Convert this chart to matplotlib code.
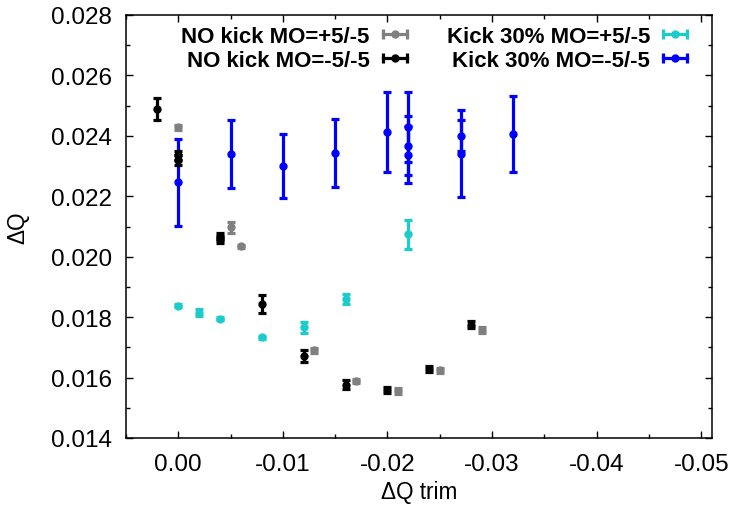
import matplotlib
matplotlib.use("Agg")
import matplotlib.pyplot as plt
from matplotlib.lines import Line2D
from matplotlib.legend_handler import HandlerLine2D, HandlerTuple
from matplotlib.ticker import MultipleLocator, FormatStrFormatter

plt.rcParams['font.family'] = ['Liberation Sans', 'DejaVu Sans']

# ---- data ----
labels = ["NO kick MO=+5/-5", "NO kick MO=-5/-5", "Kick 30% MO=+5/-5", "Kick 30% MO=-5/-5"]
colors = ["#808080", "#000000", "#1ccccc", "#0000ff"]

grey_x = [0.000, -0.005, -0.006, -0.013, -0.017, -0.021, -0.025, -0.029]
grey_y = [0.02428, 0.02098, 0.02035, 0.01690, 0.01588, 0.01557, 0.01624, 0.01756]
grey_e = [0.00008, 0.00018, 0.00005, 0.00008, 0.00006, 0.00010, 0.00008, 0.00010]

black_x = [0.002, 0.000, 0.000, -0.004, -0.004, -0.008, -0.012, -0.016, -0.020, -0.024, -0.028]
black_y = [0.02489, 0.02335, 0.02320, 0.02070, 0.02055, 0.01843, 0.01672, 0.01576, 0.01560, 0.01628, 0.01775]
black_e = [0.00035, 0.00015, 0.00015, 0.00010, 0.00010, 0.00030, 0.00020, 0.00015, 0.00010, 0.00010, 0.00012]

cyan_x = [0.000, -0.002, -0.004, -0.008, -0.012, -0.016, -0.022]
cyan_y = [0.01838, 0.01815, 0.01794, 0.01734, 0.01767, 0.01860, 0.02074]
cyan_e = [0.00005, 0.00012, 0.00005, 0.00005, 0.00018, 0.00016, 0.00047]

blue_x = [0.000, -0.005, -0.010, -0.015, -0.020, -0.022, -0.022, -0.022, -0.027, -0.027, -0.032]
blue_y = [0.02246, 0.02340, 0.02301, 0.02344, 0.02413, 0.02430, 0.02368, 0.02338, 0.02401, 0.02340, 0.02406]
blue_e = [0.00145, 0.00113, 0.00106, 0.00112, 0.00132, 0.00116, 0.00097, 0.00095, 0.00052, 0.00144, 0.00127]

x_ticks = [0.00, -0.01, -0.02, -0.03, -0.04, -0.05]
y_ticks = [0.014, 0.016, 0.018, 0.020, 0.022, 0.024, 0.026, 0.028]

series = [(grey_x, grey_y, grey_e), (black_x, black_y, black_e),
          (cyan_x, cyan_y, cyan_e), (blue_x, blue_y, blue_e)]
zorders = [4, 5, 3, 2]

fig = plt.figure(figsize=(7.30, 5.06), dpi=100)
ax = fig.add_axes([126/730, 1-439/506, (711.7-126)/730, (439-16)/506])

for (xs, ys, es), c, z in zip(series, colors, zorders):
    ax.errorbar(xs, ys, yerr=es, fmt='o', color=c, mec=c, ms=5,
                elinewidth=2.3, capsize=3, capthick=2.3, zorder=z)

ax.set_xlim(0.005, -0.051)
ax.set_ylim(0.014, 0.028)
ax.set_xticks(x_ticks)
ax.set_yticks(y_ticks)
ax.xaxis.set_major_formatter(FormatStrFormatter('%.2f'))
ax.yaxis.set_major_formatter(FormatStrFormatter('%.3f'))
ax.xaxis.set_minor_locator(MultipleLocator(0.005))
ax.yaxis.set_minor_locator(MultipleLocator(0.001))
ax.tick_params(which='both', direction='in', top=True, right=True, labelsize=17.5, width=1)
ax.tick_params(which='major', length=5)
ax.tick_params(which='minor', length=3)
ax.tick_params(axis='x', which='major', pad=11)
ax.tick_params(axis='y', which='major', pad=10)
for s in ax.spines.values():
    s.set_linewidth(1.1)

ax.set_xlabel("ΔQ trim", fontsize=16.3)
ax.set_ylabel("ΔQ", fontsize=16.3)
ax.xaxis.set_label_coords(0.5, -0.1)
ax.yaxis.set_label_coords(-0.165, 0.5)

# legend handles mimicking horizontal error-bar samples
handles = []
hmap = {}
for c in colors:
    l1 = Line2D([], [], color=c, lw=2.3, marker='|', ms=7, mew=2.3)
    l2 = Line2D([], [], color=c, ls='none', marker='o', ms=5, mec=c)
    hmap[l1] = HandlerLine2D(numpoints=2, marker_pad=0)
    hmap[l2] = HandlerLine2D(numpoints=1, marker_pad=0)
    handles.append((l1, l2))
for h in handles:
    hmap[h] = HandlerTuple(ndivide=1, pad=0)

ax.legend(handles, labels, handler_map=hmap, ncol=2, markerfirst=False,
          frameon=False, loc='upper right', bbox_to_anchor=(0.958, 0.975),
          borderaxespad=0, borderpad=0, handlelength=1.07, handletextpad=0.6,
          columnspacing=1.8, labelspacing=0.15,
          prop={'weight': 'bold', 'size': 16})

fig.savefig("out.png", dpi=100)
